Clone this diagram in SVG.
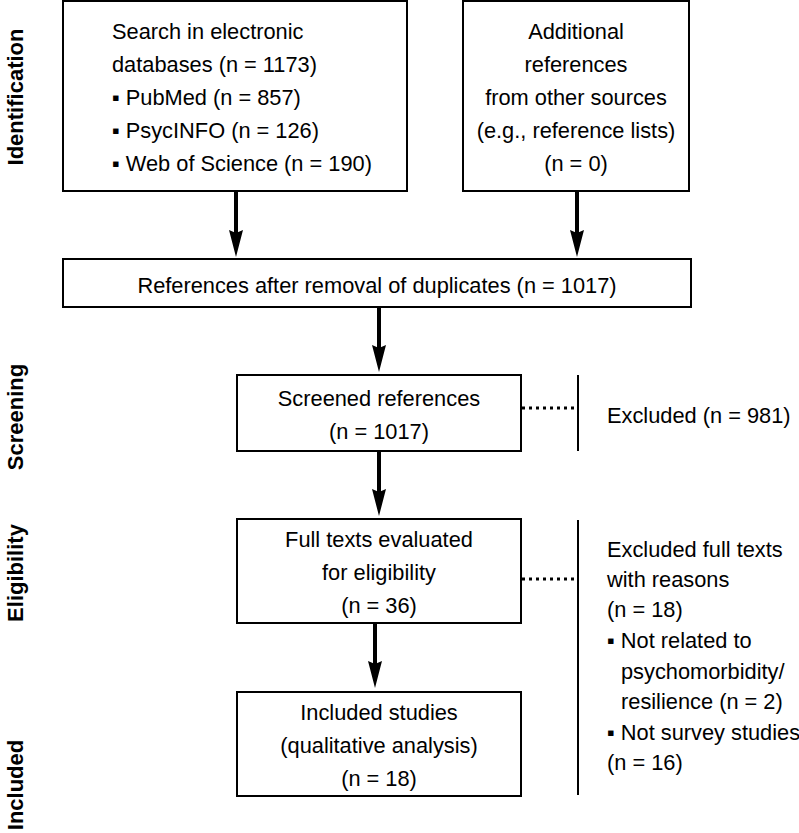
<svg xmlns="http://www.w3.org/2000/svg" width="799" height="833" viewBox="0 0 799 833">
<style>
.box{fill:#fff;stroke:#000;stroke-width:2}
.t{font-family:"Liberation Sans",Arial,"DejaVu Sans",sans-serif;font-size:21.8px;fill:#000}
.c{text-anchor:middle}
.side{font-family:"Liberation Sans",Arial,sans-serif;font-size:22px;font-weight:bold;fill:#000;text-anchor:middle}
.arrow{stroke:#000;stroke-width:4;fill:none;marker-end:url(#ah)}
.dot{stroke:#000;stroke-width:3;stroke-dasharray:3 4;fill:none}
.bar{stroke:#000;stroke-width:2;fill:none}
</style>
<defs>
<marker id="ah" markerUnits="userSpaceOnUse" viewBox="0 0 27 14" refX="7" refY="7" markerWidth="27" markerHeight="14" orient="auto">
<path d="M0,0 L27,7 L0,14 L3,7 Z" fill="#000"/>
</marker>
</defs>
<rect width="799" height="833" fill="#fff"/>
<g id="stage-labels">
<text class="side" transform="translate(23,97) rotate(-90)">Identification</text>
<text class="side" transform="translate(23,417) rotate(-90)">Screening</text>
<text class="side" transform="translate(23,573) rotate(-90)">Eligibility</text>
<text class="side" transform="translate(23,785) rotate(-90)">Included</text>
</g>
<g id="connectors">
<path class="arrow" d="M236,191 V237"/>
<path class="arrow" d="M577,191 V237"/>
<path class="arrow" d="M379,307 V352"/>
<path class="arrow" d="M379,451 V496"/>
<path class="arrow" d="M375,623 V668"/>
<path class="dot" d="M522,408 H577"/>
<path class="dot" d="M522,579 H577"/>
<path class="bar" d="M578,375 V451"/>
<path class="bar" d="M578,520 V795"/>
</g>
<g id="search">
<rect class="box" x="63" y="1" width="344" height="190"/>
<text class="t" x="112" y="39">Search in electronic</text>
<text class="t" x="112" y="72">databases (n = 1173)</text>
<text class="t" x="112" y="105">▪ PubMed (n = 857)</text>
<text class="t" x="112" y="138">▪ PsycINFO (n = 126)</text>
<text class="t" x="112" y="171">▪ Web of Science (n = 190)</text>
</g>
<g id="additional">
<rect class="box" x="463" y="1" width="226" height="190"/>
<text class="t c" x="576" y="39">Additional</text>
<text class="t c" x="576" y="72">references</text>
<text class="t c" x="576" y="105">from other sources</text>
<text class="t c" x="576" y="138">(e.g., reference lists)</text>
<text class="t c" x="576" y="171">(n = 0)</text>
</g>
<g id="deduplicated">
<rect class="box" x="63" y="259" width="628" height="48"/>
<text class="t c" x="377" y="293">References after removal of duplicates (n = 1017)</text>
</g>
<g id="screened">
<rect class="box" x="237" y="375" width="284" height="76"/>
<text class="t c" x="379" y="406">Screened references</text>
<text class="t c" x="379" y="439">(n = 1017)</text>
</g>
<g id="excluded-screening">
<text class="t" x="607" y="423">Excluded (n = 981)</text>
</g>
<g id="fulltexts">
<rect class="box" x="237" y="519" width="284" height="104"/>
<text class="t c" x="379" y="547">Full texts evaluated</text>
<text class="t c" x="379" y="580">for eligibility</text>
<text class="t c" x="379" y="613">(n = 36)</text>
</g>
<g id="excluded-fulltexts">
<text class="t" x="607" y="557">Excluded full texts</text>
<text class="t" x="607" y="587">with reasons</text>
<text class="t" x="607" y="617">(n = 18)</text>
<text class="t" x="607" y="648">▪ Not related to</text>
<text class="t" x="621" y="679">psychomorbidity/</text>
<text class="t" x="621" y="709">resilience (n = 2)</text>
<text class="t" x="607" y="740">▪ Not survey studies</text>
<text class="t" x="607" y="770">(n = 16)</text>
</g>
<g id="included">
<rect class="box" x="237" y="692" width="284" height="104"/>
<text class="t c" x="379" y="720">Included studies</text>
<text class="t c" x="379" y="753">(qualitative analysis)</text>
<text class="t c" x="379" y="786">(n = 18)</text>
</g>
</svg>
